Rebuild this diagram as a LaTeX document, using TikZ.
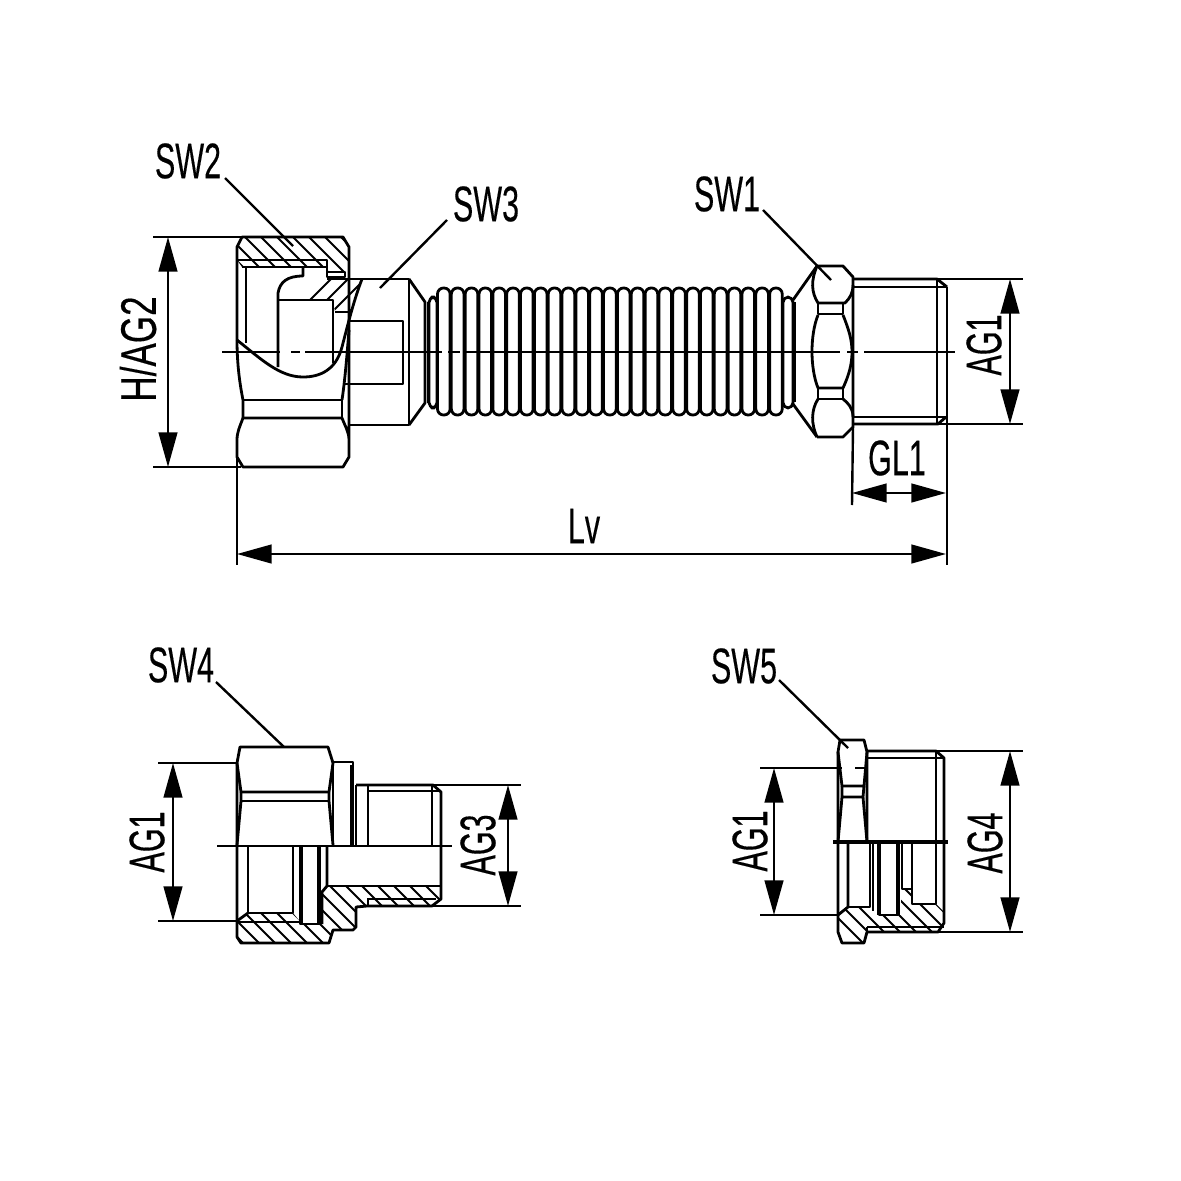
\documentclass[tikz,border=0pt]{standalone}
\usepackage{fontspec}
\setmainfont{Liberation Sans}
\newfontfamily\lblfont[FakeBold=0.4]{Liberation Sans}
\usetikzlibrary{arrows.meta}
\tikzset{
  part/.style={line width=2.1pt,line join=round},
  hatchline/.style={line width=1.5pt},
  axisline/.style={line width=1.9pt},
  extline/.style={line width=1.8pt},
  dimline/.style={line width=1.8pt,{Triangle[length=26pt,width=14pt]}-{Triangle[length=26pt,width=14pt]}},
  lbl/.style={font=\lblfont\fontsize{37.5}{40}\selectfont,xscale=.61,inner sep=0pt},
}
\begin{document}
\begin{tikzpicture}[x=0.75pt,y=0.75pt,yscale=-1,xscale=1]
\useasboundingbox (0,0) rectangle (1181,1181);

%Hatching: nut section, top
\begin{scope}
\clip (237,247) -- (242,237) -- (343,237) -- (349,247) -- (349,272) -- (328,272) -- (328,267) -- (242,267) -- (237,260) -- cycle;
\foreach \i in {0,...,9} \draw[hatchline] (190+16*\i,230) -- ++(60,60);
\end{scope}
%Hatching: nipple section
\begin{scope}
\clip (278,300) -- (278,293) .. controls (280,282) and (287,276) .. (303,276) -- (303,268) -- (327,268) -- (327,279) -- (362,279) -- (352,312) -- (335,312) -- (333,300) -- cycle;
\foreach \i in {0,...,8} \draw[hatchline] (290+17*\i,320) -- ++(60,-60);
\end{scope}

%Nut, top view
\draw[part] (237,340) -- (237,247) -- (242,237) -- (343,237) -- (349,247) -- (349,457) -- (343,467) -- (243,467) -- (237,457) -- (237,440) .. controls (237,432) and (240,426) .. (243,418) -- (342,418) .. controls (345,426) and (349,432) .. (349,440);
\draw[part] (237,340) .. controls (237,365) and (240,385) .. (243,400) -- (243,418);
\draw[part] (243,400) -- (342,400) -- (342,418);
\draw[part] (349,330) .. controls (347,355) and (345,380) .. (342,400);
\draw[part] (237,260) -- (327,260) -- (327,277) -- (345,277) -- (345,272) -- (328,272);
\draw[part] (242,267) -- (327,267);
\draw[part] (246,267) -- (246,343);
%Nipple, broken out
\draw[part] (278,367) -- (278,293) .. controls (280,282) and (287,276) .. (303,276) -- (303,268);
\draw[part] (278,300) -- (333,300) -- (333,363);
\draw[part] (335,312) -- (352,312);
\draw[part] (362,279) .. controls (354,300) and (349,320) .. (342,347) .. controls (336,370) and (320,377) .. (303,377) .. controls (280,377) and (262,360) .. (237,340);
%Hex SW3
\draw[part] (327,279) -- (409,279) -- (409,425) -- (349,425);
\draw[part] (349,321) -- (403,321) -- (403,384) -- (345,384);
\draw[part] (409,279) -- (425,302) -- (425,403) -- (409,425);
\draw[part] (428,302) -- (428,403);

%Bellows
\draw[part,rounded corners=4pt] (429,297) rectangle (437,408);
\foreach \i in {0,...,24} \draw[part,rounded corners=4.5pt] (437.5+13.84*\i,288) rectangle ++(12.6,127);
\draw[part,rounded corners=4pt] (783,297) rectangle (793,408);

%Nut SW1
\draw[part] (795,302) -- (795,402);
\draw[part] (793,300) -- (817,266);
\draw[part] (793,404) -- (817,437);
\draw[part] (817,266) -- (843,266) -- (853,277) -- (853,427) -- (843,437) -- (817,437);
\draw[part] (817,266) .. controls (811,280) and (811,292) .. (818,303) -- (845,303) .. controls (850,298) and (853,293) .. (853,285);
\draw[part] (818,303) -- (818,314) -- (843,314) -- (843,303);
\draw[part] (818,315) .. controls (810,335) and (810,368) .. (818,388) -- (843,388);
\draw[part] (843,315) .. controls (849,330) and (852,340) .. (852,352) .. controls (852,364) and (849,375) .. (843,388);
\draw[part] (818,388) -- (818,399) -- (843,399) -- (843,388);
\draw[part] (818,399) .. controls (811,410) and (811,424) .. (817,437);
\draw[part] (843,399) .. controls (848,403) and (853,408) .. (853,417);
%Thread AG1
\draw[part] (853,279) -- (937,279) -- (947,287);
\draw[part] (853,287) -- (947,287);
\draw[part] (937,279) -- (937,424);
\draw[part] (853,417) -- (947,417);
\draw[part] (853,424) -- (938,424) -- (946,417);

%Axis line
\draw[axisline] (222,352) -- (280,352);
\draw[axisline] (291,352) -- (300,352);
\draw[axisline] (305,352) -- (442,352);
\draw[axisline] (448,352) -- (460,352);
\draw[axisline] (465,352) -- (840,352);
\draw[axisline] (847,352) -- (858,352);
\draw[axisline] (864,352) -- (955,352);

%Extension lines, main view
\coordinate (hTopA) at (153,237);
\coordinate (hTopB) at (241,237);
\coordinate (hBotA) at (153,467);
\coordinate (hBotB) at (241,467);
\coordinate (lvLeft) at (237,565);
\coordinate (lvRight) at (947,565);
\coordinate (glLeft) at (852,505);
\draw[extline] (hTopA) -- (hTopB);
\draw[extline] (hBotA) -- (hBotB);
\draw[extline] (237,455) -- (lvLeft);
\draw[extline] (947,287) -- (lvRight);
\draw[extline] (853,427) -- (glLeft);
\draw[extline] (937,279) -- (1023,279);
\draw[extline] (938,424) -- (1023,424);
%Dimension lines, main view
\draw[dimline] (168,237) -- (168,467);
\draw[dimline] (1010,279) -- (1010,424);
\draw[dimline] (852,493) -- (946,493);
\draw[dimline] (237,554) -- (946,554);

%Text Nodes, main view
\node[lbl] (lblSWtwo) at (188,161) {SW2};
\node[lbl] (lblSWthree) at (486,204) {SW3};
\node[lbl] (lblSWone) at (727,194) {SW1};
\node[rotate=90,lbl,xscale=1.15] (lblHAG) at (138,349) {H/AG2};
\node[rotate=90,lbl] (lblAGmain) at (984,345) {AG1};
\node[lbl] (lblGL) at (897,458) {GL1};
\node[lbl] (lblLv) at (584,526) {Lv};
\coordinate (tipSWtwo) at (293,246);
\coordinate (tipSWthree) at (380,288);
\coordinate (tipSWone) at (831,280);
\draw[extline] (225,178) -- (tipSWtwo);
\draw[extline] (447,220) -- (tipSWthree);
\draw[extline] (763,210) -- (tipSWone);

%Hatching: lower left fitting
\begin{scope}
\clip (237,921) -- (248,913) -- (293,913) -- (302,924) -- (322,924) -- (322,892) -- (327,886) -- (441,886) -- (441,899) -- (432,906) -- (367,906) -- (356,907) -- (356,927) -- (353,930) -- (333,930) -- (329,943) -- (241,943) -- (237,937) -- cycle;
\foreach \i in {0,...,15} \draw[hatchline] (180+16*\i,880) -- ++(70,70);
\end{scope}
%Lower left fitting
\draw[part] (237,921) -- (237,763) -- (240,747) -- (328,747) -- (333,763) -- (329,792);
\draw[part] (237,763) -- (241,792) -- (329,792);
\draw[part] (241,801) -- (329,801);
\draw[part] (241,792) -- (241,801) -- (237,845);
\draw[part] (329,792) -- (329,801) -- (333,845);
\draw[part] (333,763) -- (333,845);
\draw[part] (333,762) -- (353,762) -- (353,845);
\draw[part] (351,765) -- (351,845);
\draw[part] (356,785) -- (356,845);
\draw[part] (356,785) -- (433,785) -- (441,792) -- (441,899) -- (432,906) -- (367,906) -- (356,907) -- (356,927) -- (353,930) -- (333,930) -- (329,943) -- (241,943) -- (237,937) -- (237,921);
\draw[part] (368,785) -- (368,845);
\draw[part] (368,791) -- (441,791);
\draw[part] (432,785) -- (432,845);
\draw[part] (248,846) -- (248,913) -- (293,913) -- (293,846);
\draw[part] (237,921) -- (248,913);
\draw[part] (237,922) -- (300,922);
\draw[part] (300,846) -- (300,924) -- (320,924) -- (320,846);
\draw[part] (302,846) -- (302,924);
\draw[part] (318,846) -- (318,924);
\draw[part] (327,846) -- (327,886) -- (322,892) -- (322,924);
\draw[part] (327,886) -- (441,886);
\draw[part] (367,899) -- (436,899);
\draw[part] (368,899) -- (368,906);
\draw[axisline] (217,846) -- (452,846);
%Dimensions, lower left
\coordinate (agoTopA) at (158,763);
\coordinate (agoBotA) at (158,921);
\coordinate (agtTopB) at (521,785);
\coordinate (agtBotB) at (521,906);
\draw[extline] (agoTopA) -- (237,763);
\draw[extline] (agoBotA) -- (237,921);
\draw[extline] (433,785) -- (agtTopB);
\draw[extline] (432,906) -- (agtBotB);
\draw[dimline] (173,763) -- (173,921);
\draw[dimline] (508,785) -- (508,906);
\node[lbl] (lblSWfour) at (181,665) {SW4};
\node[rotate=90,lbl] (lblAGleft) at (147,842) {AG1};
\node[rotate=90,lbl] (lblAGthree) at (478,845) {AG3};
\coordinate (tipSWfour) at (284,747);
\draw[extline] (216,682) -- (tipSWfour);

%Hatching: lower right fitting
\begin{scope}
\clip (838,915) -- (848,907) -- (870,907) -- (879,915) -- (901,915) -- (901,889) -- (912,889) -- (912,904) -- (936,904) -- (944,912) -- (944,923) -- (938,932) -- (867,932) -- (864,943) -- (842,943) -- (838,932) -- cycle;
\foreach \i in {0,...,10} \draw[hatchline] (800+16*\i,880) -- ++(70,70);
\end{scope}
%Lower right fitting
\draw[part] (838,842) -- (838,752) -- (840,740) -- (864,740) -- (867,752) -- (867,842);
\draw[part] (838,752) -- (842,786) -- (864,786) -- (867,752);
\draw[part] (842,786) -- (842,797) -- (863,797) -- (864,786);
\draw[part] (842,797) -- (838,842);
\draw[part] (863,797) -- (867,842);
\draw[part] (867,751) -- (936,751) -- (944,758) -- (944,923) -- (938,932) -- (867,932) -- (864,943) -- (842,943) -- (838,932) -- (838,842);
\draw[part] (867,758) -- (944,758);
\draw[part] (936,751) -- (936,842);
\draw[part] (848,842) -- (848,907) -- (838,915);
\draw[part] (848,907) -- (870,907) -- (870,842);
\draw[part] (873,842) -- (873,911);
\draw[part] (879,842) -- (879,915) -- (898,915) -- (898,842);
\draw[line width=3pt] (879,842) -- (879,915);
\draw[line width=3pt] (898,842) -- (898,915);
\draw[part] (902,842) -- (902,889) -- (912,889);
\draw[part] (912,842) -- (912,904) -- (936,904) -- (936,842);
\draw[part] (867,927) -- (944,927);
\draw[part] (867,927) -- (867,932);
\draw[line width=2.4pt] (833,842) -- (948,842);
%Dimensions, lower right
\coordinate (agfTopB) at (1023,751);
\coordinate (agfBotB) at (1023,932);
\coordinate (agoRTopA) at (760,768);
\coordinate (agoRBotA) at (760,915);
\draw[extline] (936,751) -- (agfTopB);
\draw[extline] (938,932) -- (agfBotB);
\draw[extline] (agoRTopA) -- (842,768);
\draw[extline] (855,768) -- (867,768);
\draw[extline] (agoRBotA) -- (838,915);
\draw[dimline] (774,768) -- (774,915);
\draw[dimline] (1010,751) -- (1010,932);
\node[lbl] (lblSWfive) at (744,666) {SW5};
\node[rotate=90,lbl] (lblAGright) at (750,841) {AG1};
\node[rotate=90,lbl] (lblAGfour) at (985,843) {AG4};
\coordinate (tipSWfive) at (848,748);
\draw[extline] (779,680) -- (tipSWfive);

\end{tikzpicture}
\end{document}
